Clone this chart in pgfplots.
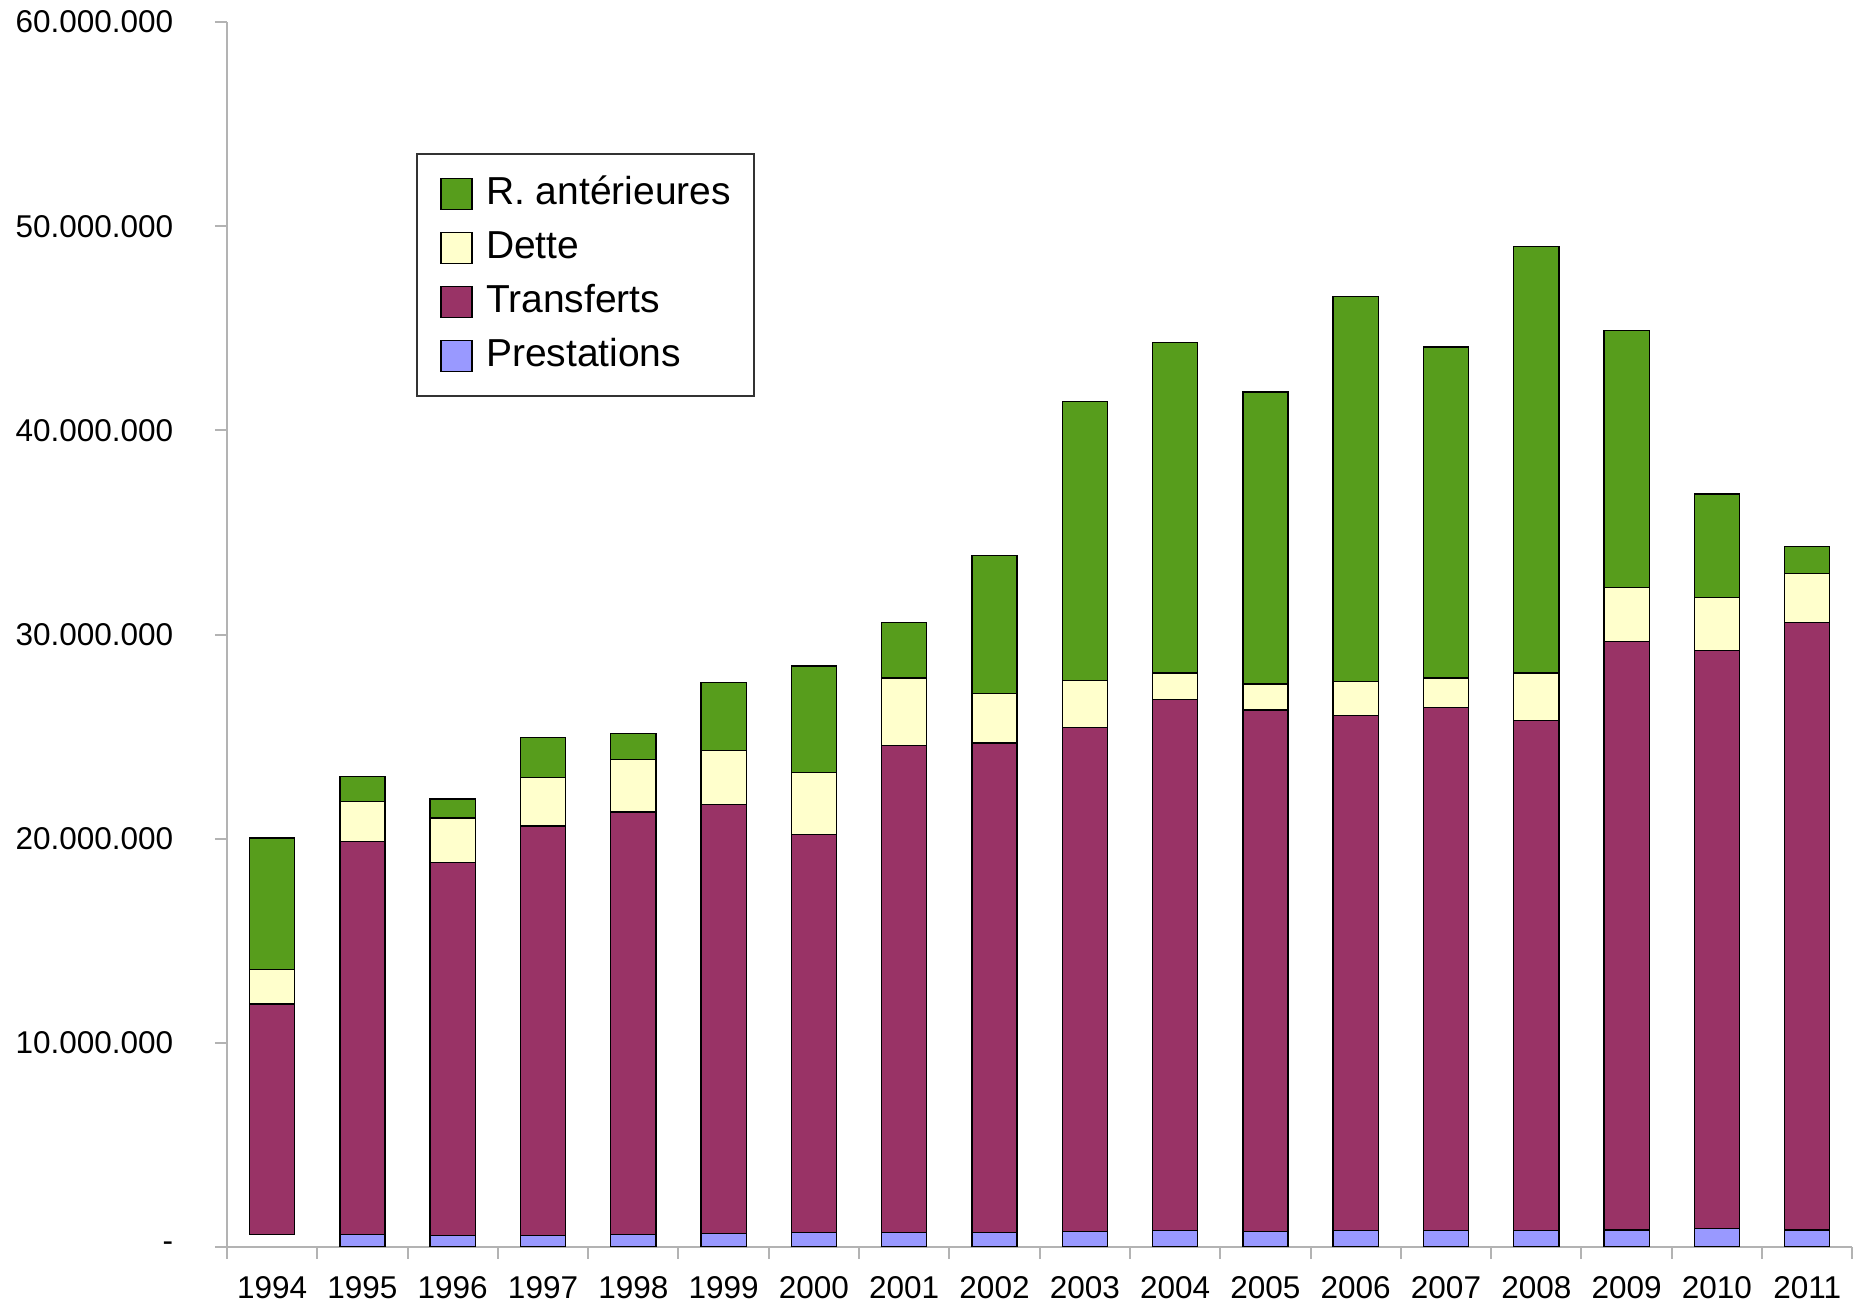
\documentclass[border=0pt]{standalone}
\usepackage{pgfplots}
\pgfplotsset{compat=1.18}
\usepackage{fontspec}
\setmainfont{Liberation Sans}
\definecolor{cR}{HTML}{579D1C}
\definecolor{cD}{HTML}{FFFFCC}
\definecolor{cT}{HTML}{993366}
\definecolor{cP}{HTML}{9999FF}
\definecolor{axgray}{HTML}{B3B3B3}
\begin{document}
\begin{tikzpicture}
\path[use as bounding box] (-68.1pt,-16.8pt) rectangle (489.3pt,374.1pt);
\begin{axis}[
  at={(0,0)}, anchor=south west, scale only axis,
  width=487.6pt, height=367.5pt,
  ybar stacked, bar width=0.5,
  xmin=-0.5, xmax=17.5, ymin=0, ymax=60000000,
  enlargelimits=false,
  axis lines*=left,
  axis line style={axgray, line width=0.6pt},
  xtick={0,...,17},
  xticklabels={1994,1995,1996,1997,1998,1999,2000,2001,2002,2003,2004,2005,2006,2007,2008,2009,2010,2011},
  minor xtick={-0.5,0.5,...,17.5},
  major x tick style={draw=none},
  minor x tick style={axgray, line width=0.6pt},
  y tick style={axgray, line width=0.6pt},
  tick align=outside, major tick length=3.6pt, minor tick length=3.6pt,
  ytick={0,10000000,20000000,30000000,40000000,50000000,60000000},
  yticklabels={-,10.000.000,20.000.000,30.000.000,40.000.000,50.000.000,60.000.000},
  scaled y ticks=false,
  ticklabel style={font=\fontsize{9.45}{11}\selectfont},
  yticklabel style={xshift=-9pt},
  xticklabel style={yshift=-1.7pt},
  reverse legend,
  legend cell align=left,
  legend style={at={(axis description cs:0.1163,0.893)}, anchor=north west,
    draw=black!80, line width=0.6pt, font=\fontsize{11.7}{14}\selectfont,
    inner xsep=7pt, inner ysep=6pt,
    nodes={inner sep=0pt, text height=9pt, text depth=3pt},
    column sep=4pt, row sep=4.2pt},
  legend image code/.code={\draw[#1, line width=0.4pt] (0pt,-4.6pt) rectangle (9.3pt,4.7pt);},
  every axis plot/.append style={line width=0.4pt},
]
\addplot[draw=none, fill=none, forget plot] coordinates {
(0,620000) (1,0) (2,0) (3,0) (4,0) (5,0) (6,0) (7,0) (8,0) (9,0) (10,0) (11,0) (12,0) (13,0) (14,0) (15,0) (16,0) (17,0)};
\addplot[fill=cP, draw=black] coordinates {
(0,0) (1,600000) (2,570000) (3,570000) (4,600000) (5,650000) (6,700000) (7,700000) (8,700000) (9,750000) (10,800000) (11,770000) (12,820000) (13,800000) (14,800000) (15,830000) (16,900000) (17,830000)};
\addlegendentry{Prestations}
\addplot[fill=cT, draw=black] coordinates {
(0,11280000) (1,19260000) (2,18250000) (3,20050000) (4,20710000) (5,21010000) (6,19510000) (7,23860000) (8,23980000) (9,24690000) (10,26030000) (11,25540000) (12,25200000) (13,25620000) (14,24980000) (15,28840000) (16,28310000) (17,29770000)};
\addlegendentry{Transferts}
\addplot[fill=cD, draw=black] coordinates {
(0,1690000) (1,1970000) (2,2200000) (3,2380000) (4,2560000) (5,2670000) (6,3020000) (7,3310000) (8,2440000) (9,2320000) (10,1280000) (11,1270000) (12,1680000) (13,1450000) (14,2330000) (15,2620000) (16,2610000) (17,2380000)};
\addlegendentry{Dette}
\addplot[fill=cR, draw=black] coordinates {
(0,6440000) (1,1220000) (2,930000) (3,1970000) (4,1270000) (5,3310000) (6,5220000) (7,2730000) (8,6740000) (9,13640000) (10,16200000) (11,14290000) (12,18870000) (13,16210000) (14,20900000) (15,12600000) (16,5060000) (17,1340000)};
\addlegendentry{R. antérieures}
\end{axis}
\end{tikzpicture}
\end{document}
